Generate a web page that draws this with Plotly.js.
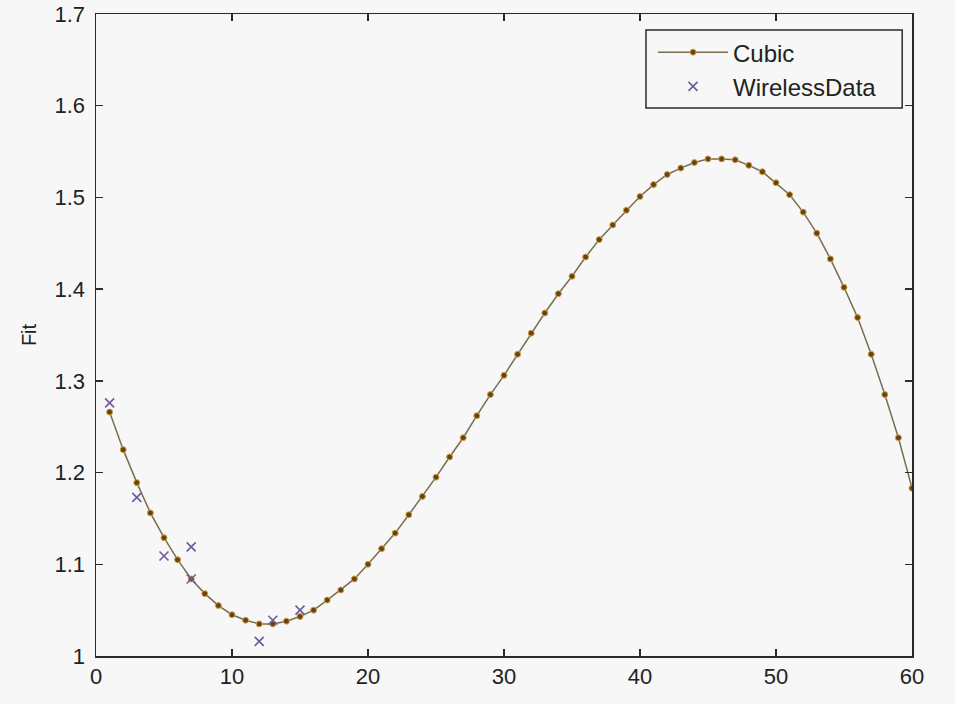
<!DOCTYPE html>
<html>
<head>
<meta charset="utf-8">
<script src="https://cdn.plot.ly/plotly-3.0.1.min.js"></script>
<style>html,body{margin:0;padding:0;background:#f7f7f7;}</style>
</head>
<body>
<div id="chart" style="width:955px;height:704px;"></div>
<script>
const cubicX = [1,2,3,4,5,6,7,8,9,10,11,12,13,14,15,16,17,18,19,20,21,22,23,24,25,26,27,28,29,30,31,32,33,34,35,36,37,38,39,40,41,42,43,44,45,46,47,48,49,50,51,52,53,54,55,56,57,58,59,60];
const cubicY = [1.266,1.225,1.189,1.156,1.129,1.105,1.084,1.068,1.055,1.045,1.039,1.035,1.035,1.038,1.043,1.050,1.061,1.072,1.084,1.100,1.117,1.134,1.154,1.174,1.195,1.217,1.238,1.262,1.285,1.306,1.329,1.352,1.374,1.395,1.414,1.435,1.454,1.470,1.486,1.501,1.514,1.525,1.532,1.538,1.542,1.542,1.541,1.535,1.528,1.516,1.503,1.484,1.461,1.433,1.402,1.369,1.329,1.285,1.238,1.183];
const wirelessX = [1,3,5,7,7,12,13,15];
const wirelessY = [1.276,1.173,1.109,1.119,1.084,1.016,1.039,1.050];
const xTicks = [0,10,20,30,40,50,60];
const yTicks = [1,1.1,1.2,1.3,1.4,1.5,1.6,1.7];
const yTickText = ['1','1.1','1.2','1.3','1.4','1.5','1.6','1.7'];

const font = 'Liberation Sans, Arial, sans-serif';
const traces = [
  {
    x: cubicX, y: cubicY, name: 'Cubic', type: 'scatter', mode: 'lines+markers', legendgroup: 'a',
    line: {color: '#7a6c4e', width: 1.5},
    marker: {symbol: 'circle', size: 6, color: '#64460f', line: {color: '#d9a050', width: 1}}
  },
  {
    x: wirelessX, y: wirelessY, name: 'WirelessData', type: 'scatter', mode: 'markers', legendgroup: 'b',
    marker: {symbol: 'x-thin', size: 9, color: '#6a5c9c', line: {color: '#6a5c9c', width: 1.6}}
  }
];
const layout = {
  width: 955, height: 704,
  paper_bgcolor: '#f7f7f7', plot_bgcolor: '#f7f7f7',
  margin: {l: 96, r: 43, t: 14, b: 48},
  showlegend: true,
  xaxis: {
    range: [0, 60], tickmode: 'array', tickvals: xTicks, ticktext: xTicks.map(String),
    showgrid: false, zeroline: false, showline: true, mirror: 'ticks',
    linecolor: '#2a2a2a', linewidth: 1.5, ticks: 'inside', ticklen: 7, tickwidth: 1.5, tickcolor: '#2a2a2a',
    tickfont: {family: font, size: 22, color: '#222'}
  },
  yaxis: {
    range: [1, 1.7], tickmode: 'array', tickvals: yTicks, ticktext: yTickText,
    showgrid: false, zeroline: false, showline: true, mirror: 'ticks',
    linecolor: '#2a2a2a', linewidth: 1.5, ticks: 'inside', ticklen: 7, tickwidth: 1.5, tickcolor: '#2a2a2a',
    tickfont: {family: font, size: 22, color: '#222'}, ticklabelstandoff: 5,
    title: {text: 'Fit', font: {family: font, size: 20, color: '#222'}, standoff: 12}
  },
  shapes: [{
    type: 'rect', xref: 'paper', yref: 'paper', x0: 0.674, x1: 0.988, y0: 0.8536, y1: 0.975,
    line: {color: '#2a2a2a', width: 1.5}, fillcolor: 'rgba(0,0,0,0)', layer: 'above'
  }],
  legend: {
    x: 0.6826, y: 0.975, xanchor: 'left', yanchor: 'top',
    bgcolor: 'rgba(0,0,0,0)', borderwidth: 0,
    font: {family: font, size: 24, color: '#222'}, itemwidth: 70, tracegroupgap: 0
  }
};
Plotly.newPlot('chart', traces, layout, {displayModeBar: false, staticPlot: true});
</script>
</body>
</html>
